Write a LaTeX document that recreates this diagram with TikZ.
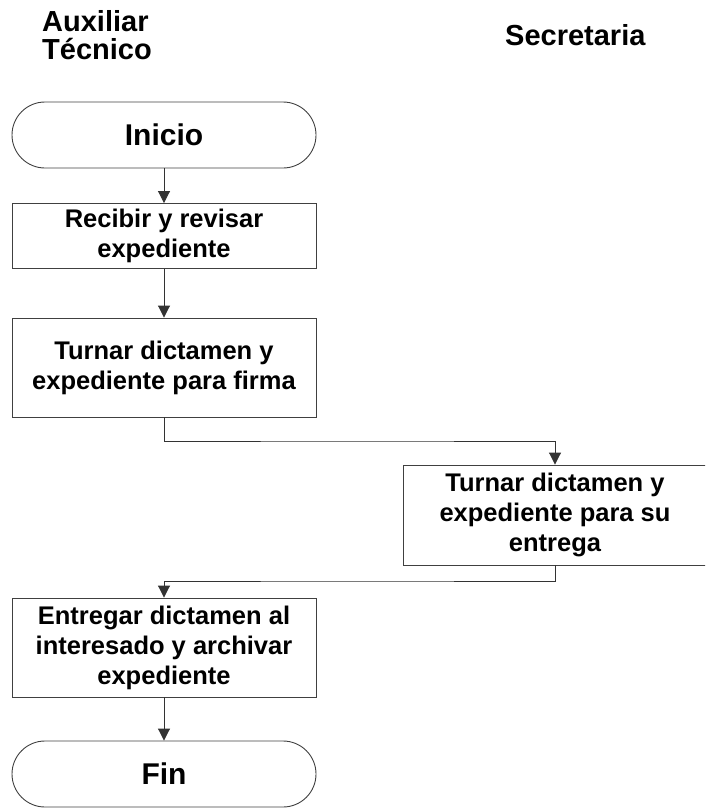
\documentclass[tikz,border=0pt]{standalone}
\usepackage{fontspec}
\setmainfont{Liberation Sans}
\usetikzlibrary{arrows.meta}
\begin{document}
\begin{tikzpicture}[x=1pt,y=-1pt,
  box/.style={draw=black!75,line width=0.9pt,minimum width=304pt,align=center,font=\fontsize{25.5}{30}\selectfont\bfseries,inner sep=0pt},
  term/.style={box,rounded corners=33pt,font=\fontsize{30}{32}\selectfont\bfseries},
  hdr/.style={font=\fontsize{29}{27.5}\selectfont\bfseries,inner sep=0pt},
  conn/.style={draw=black!80,line width=0.9pt,-{Triangle[length=12pt,width=12pt]}}]
\useasboundingbox (0,0) rectangle (705,809);
\clip (0,0) rectangle (705,809);
\node[hdr,anchor=north west,align=left] (h1) at (42,10.5) {Auxiliar\\Técnico};
\node[hdr,anchor=base west] (h2) at (505,45) {Secretaria};
\node[term,minimum height=66pt] (ini) at (164,135) {Inicio};
\node[box,minimum height=65pt] (b1) at (164,236) {Recibir y revisar\\expediente};
\node[box,minimum height=99pt] (b2) at (164,367.5) {Turnar dictamen y\\expediente para firma};
\node[box,minimum height=100pt] (b3) at (555,515) {Turnar dictamen y\\expediente para su\\entrega};
\node[box,minimum height=99pt] (b4) at (164,647.5) {Entregar dictamen al\\interesado y archivar\\expediente};
\node[term,minimum height=66pt] (fin) at (164,774) {Fin};
\draw[conn] (ini) -- (b1);
\draw[conn] (b1) -- (b2);
\draw[conn] (b2.south) |- (355,441) -| (b3.north);
\draw[conn] (b3.south) |- (355,581) -| (b4.north);
\draw[conn] (b4) -- (fin);
\end{tikzpicture}
\end{document}
